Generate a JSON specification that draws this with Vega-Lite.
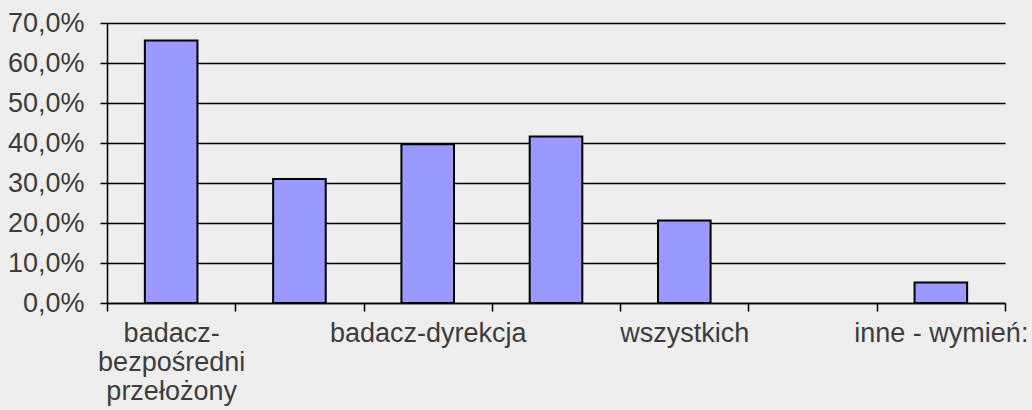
{
  "$schema": "https://vega.github.io/schema/vega-lite/v6.json",
  "width": 898,
  "height": 280,
  "autosize": "none",
  "padding": {"left": 107, "top": 23, "right": 27, "bottom": 107},
  "background": "#eeeeee",
  "config": {"view": {"stroke": null}, "font": "Liberation Sans"},
  "data": {"values": [
    {"nr": 1, "kategoria": "badacz-bezpośredni przełożony", "udzial": 0.656},
    {"nr": 2, "kategoria": "", "udzial": 0.310},
    {"nr": 3, "kategoria": "badacz-dyrekcja", "udzial": 0.397},
    {"nr": 4, "kategoria": "", "udzial": 0.416},
    {"nr": 5, "kategoria": "wszystkich", "udzial": 0.206},
    {"nr": 7, "kategoria": "inne - wymień:", "udzial": 0.051}
  ]},
  "mark": {"type": "bar", "width": {"band": 0.41}, "fill": "#9999ff", "stroke": "#000000", "strokeWidth": 2},
  "encoding": {
    "x": {
      "field": "nr", "type": "ordinal",
      "scale": {"domain": [1, 2, 3, 4, 5, 6, 7], "paddingInner": 0, "paddingOuter": 0},
      "axis": {
        "title": null,
        "labelAngle": 0,
        "tickBand": "extent",
        "domainColor": "#000000", "domainWidth": 1.5,
        "tickColor": "#000000", "tickWidth": 1.5, "tickSize": 8,
        "labelFont": "Liberation Sans", "labelFontSize": 27, "labelColor": "#3c3c3c",
        "labelPadding": 9, "labelLineHeight": 29, "labelBaseline": "top",
        "labelOverlap": false, "labelFlush": false, "labelLimit": 0,
        "labelExpr": "datum.value == 1 ? ['badacz-', 'bezpośredni', 'przełożony'] : datum.value == 3 ? 'badacz-dyrekcja' : datum.value == 5 ? 'wszystkich' : datum.value == 7 ? 'inne - wymień:' : ''"
      }
    },
    "y": {
      "field": "udzial", "type": "quantitative",
      "scale": {"domain": [0, 0.7], "nice": false},
      "axis": {
        "title": null,
        "values": [0, 0.1, 0.2, 0.3, 0.4, 0.5, 0.6, 0.7],
        "labelExpr": "replace(format(datum.value, '.1%'), '.', ',')",
        "domainColor": "#000000", "domainWidth": 1.5,
        "tickColor": "#000000", "tickWidth": 1.5, "tickSize": 7,
        "grid": true, "gridColor": "#000000", "gridWidth": 1.5,
        "labelFont": "Liberation Sans", "labelFontSize": 27, "labelColor": "#3c3c3c",
        "labelPadding": 16, "labelLimit": 0
      }
    }
  }
}
